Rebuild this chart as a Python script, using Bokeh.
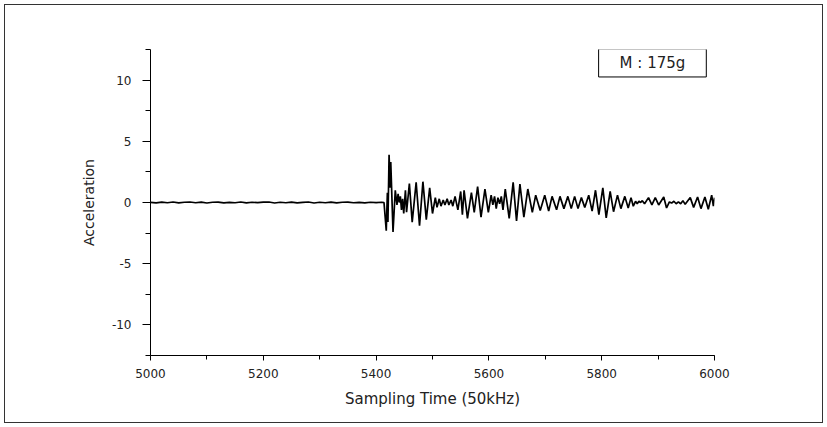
from bokeh.plotting import figure
from bokeh.models import Range1d, SingleIntervalTicker, Label, PrintfTickFormatter
from bokeh.embed import file_html
from bokeh.resources import INLINE

# ---- data (sample index, acceleration) ----
quiet_time = [5000, 5010, 5020, 5030, 5040, 5050, 5060, 5070, 5080, 5090,
              5100, 5110, 5120, 5130, 5140, 5150, 5160, 5170, 5180, 5190,
              5200, 5210, 5220, 5230, 5240, 5250, 5260, 5270, 5280, 5290,
              5300, 5310, 5320, 5330, 5340, 5350, 5360, 5370, 5380, 5390,
              5400, 5410]
quiet_accel = [0.01, -0.03, 0.03, -0.02, 0.04, -0.03, 0.02, 0.04, -0.02, 0.03,
               -0.04, 0.02, 0.03, -0.03, 0.01, -0.02, 0.04, -0.03, 0.02, -0.01,
               0.03, 0.04, -0.04, 0.02, -0.02, 0.03, -0.03, 0.01, 0.04, -0.04,
               0.02, -0.02, 0.03, -0.03, 0.02, 0.03, -0.02, 0.01, -0.03, 0.02,
               -0.01, 0.02]

event_time = [5414, 5418, 5420, 5421, 5423, 5425, 5426, 5430, 5434, 5437,
              5439, 5441, 5443, 5445, 5447, 5449, 5452, 5454, 5459, 5464,
              5471, 5477, 5483, 5489, 5495, 5500, 5505, 5508, 5512, 5515,
              5519, 5522, 5526, 5529, 5533, 5536, 5540, 5545, 5550, 5553,
              5556, 5562, 5569, 5574, 5580, 5586, 5593, 5599, 5604, 5607,
              5610, 5613, 5616, 5619, 5622, 5625, 5629, 5636, 5643, 5649,
              5655, 5662, 5669, 5677, 5683, 5691, 5699, 5706, 5712, 5720,
              5726, 5733, 5740, 5746, 5752, 5758, 5764, 5770, 5777, 5783,
              5789, 5795, 5802, 5808, 5815, 5821, 5828, 5834, 5841, 5847,
              5852, 5856, 5860, 5863, 5866, 5869, 5872, 5876, 5883, 5889,
              5895, 5901, 5910, 5915, 5920, 5924, 5928, 5932, 5936, 5940,
              5944, 5948, 5952, 5957, 5963, 5970, 5976, 5983, 5989, 5995,
              5998, 6000]
event_accel = [0.0, -2.3, 0.8, -1.6, 3.9, 1.2, 3.3, -2.4, 1.0, -0.2,
               0.7, 0.0, 0.5, -0.6, 0.3, -0.9, 1.0, -0.8, 1.55, -1.6,
               1.65, -1.9, 1.7, -1.4, 1.2, -0.9, 0.4, -0.4, 0.3, -0.3,
               0.2, -0.2, 0.3, -0.2, 0.2, -0.3, 0.5, -0.6, 0.9, -1.0,
               1.0, -1.3, 0.8, -0.8, 1.3, -1.2, 1.1, -0.8, 0.6, -0.2,
               0.5, -0.5, 0.4, -0.1, 0.5, -0.6, 1.1, -1.3, 1.65, -1.5,
               1.5, -1.2, 1.1, -0.8, 0.6, -0.65, 0.6, -0.7, 0.5, -0.6,
               0.5, -0.5, 0.5, -0.5, 0.5, -0.5, 0.4, -0.4, 0.6, -0.7,
               1.0, -1.0, 1.2, -1.25, 0.9, -0.75, 0.6, -0.5, 0.5, -0.45,
               0.4, -0.3, 0.1, -0.1, 0.1, 0.0, 0.15, -0.1, 0.4, -0.2,
               0.4, -0.2, 0.45, -0.45, 0.05, -0.05, 0.1, -0.1, 0.05, -0.1,
               0.15, -0.15, 0.1, 0.4, -0.4, 0.45, -0.5, 0.45, -0.55, 0.6,
               -0.3, 0.4]

x_ticks_interval = 200
y_ticks_interval = 5
mass_label = "M : 175g"

time = quiet_time + event_time
accel = quiet_accel + event_accel

FONT = "DejaVu Sans"

p = figure(width=817, height=417, output_backend="svg", toolbar_location=None,
           x_range=Range1d(5000, 6000), y_range=Range1d(-12.5, 12.5),
           min_border_left=145, min_border_right=108,
           min_border_top=44, min_border_bottom=67)
p.margin = (5, 5, 5, 5)
p.styles = {"outline": "1px solid #333"}
p.outline_line_color = None
p.xgrid.visible = False
p.ygrid.visible = False
p.background_fill_color = "white"
p.border_fill_color = "white"

p.line(time, accel, line_color="black", line_width=1.7)

p.xaxis.ticker = SingleIntervalTicker(interval=x_ticks_interval, num_minor_ticks=2)
p.yaxis.ticker = SingleIntervalTicker(interval=y_ticks_interval, num_minor_ticks=2)
p.xaxis.formatter = PrintfTickFormatter(format="%d")
p.yaxis.formatter = PrintfTickFormatter(format="%d")

for ax in (p.xaxis[0], p.yaxis[0]):
    ax.axis_line_color = "black"
    ax.major_tick_line_color = "black"
    ax.minor_tick_line_color = "black"
    ax.major_tick_in = 0
    ax.minor_tick_in = 0
    ax.major_label_text_font = FONT
    ax.major_label_text_font_size = "12px"
    ax.major_label_text_color = "#222222"
    ax.axis_label_text_font = FONT
    ax.axis_label_text_font_style = "normal"
    ax.axis_label_text_color = "#222222"

p.xaxis.major_tick_out = 5
p.xaxis.minor_tick_out = 4
p.yaxis.major_tick_out = 8
p.yaxis.minor_tick_out = 5
p.xaxis.major_label_standoff = 8
p.yaxis.major_label_standoff = 11

p.xaxis.axis_label = "Sampling Time (50kHz)"
p.xaxis.axis_label_text_font_size = "15px"
p.xaxis.axis_label_standoff = 9
p.yaxis.axis_label = "Acceleration"
p.yaxis.axis_label_text_font_size = "14px"
p.yaxis.axis_label_standoff = 12

lab = Label(x=5890, y=11.4, text=mass_label, text_align="center",
            text_baseline="middle", text_font=FONT, text_font_size="15px",
            text_color="#222222", border_line_color="black", border_line_width=1,
            background_fill_color="white", padding=(21, 5))
p.add_layout(lab)

open("out.html", "w").write(file_html(p, INLINE))
